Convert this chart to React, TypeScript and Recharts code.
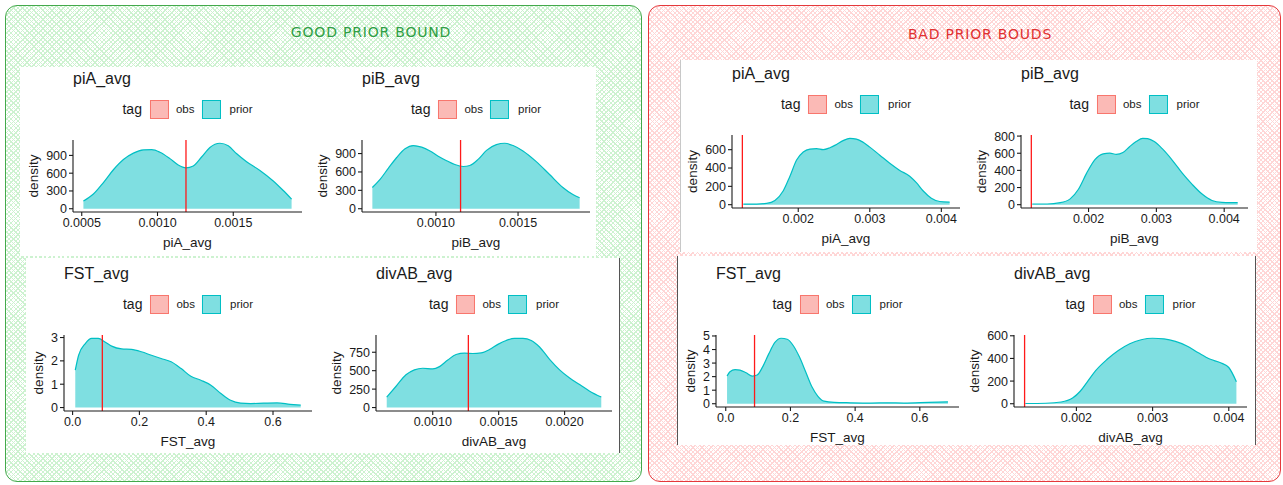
import React from 'react'
import { AreaChart, Area, XAxis, YAxis, ReferenceLine } from 'recharts'

// prior densities (x = statistic value, y = density) and the observed statistic

const goodPiAX = [0.000511, 0.000577, 0.000643, 0.000709, 0.000775, 0.000841, 0.000907, 0.000962, 0.001016, 0.001082, 0.001137, 0.001188, 0.001236, 0.001291, 0.001346, 0.001412, 0.001467, 0.001523, 0.001588, 0.001676, 0.001764, 0.00183, 0.001885]
const goodPiAY = [129, 248, 442, 658, 830, 938, 992, 997, 954, 846, 738, 690, 722, 873, 1035, 1105, 1062, 927, 792, 647, 469, 307, 162]
const goodPiAObs = 0.001188

const goodPiBX = [0.000613, 0.00066, 0.000711, 0.000761, 0.000812, 0.000862, 0.000913, 0.000964, 0.001014, 0.001065, 0.001115, 0.001166, 0.001206, 0.001257, 0.001308, 0.001368, 0.001419, 0.00147, 0.00153, 0.001611, 0.001692, 0.001773, 0.001834, 0.001875]
const goodPiBY = [347, 479, 663, 836, 978, 1031, 1005, 942, 857, 784, 721, 689, 705, 805, 952, 1047, 1068, 1031, 942, 768, 558, 347, 231, 179]
const goodPiBObs = 0.00115

const goodFstX = [0.008, 0.018, 0.038, 0.057, 0.077, 0.097, 0.117, 0.147, 0.176, 0.206, 0.236, 0.265, 0.295, 0.325, 0.354, 0.384, 0.414, 0.444, 0.473, 0.503, 0.533, 0.572, 0.612, 0.651, 0.683]
const goodFstY = [1.6, 2.24, 2.74, 2.96, 2.96, 2.81, 2.63, 2.51, 2.49, 2.39, 2.24, 2.1, 1.96, 1.67, 1.34, 1.17, 0.96, 0.6, 0.31, 0.19, 0.17, 0.19, 0.2, 0.14, 0.1]
const goodFstObs = 0.089

const goodDivX = [0.000651, 0.000722, 0.000797, 0.000861, 0.000924, 0.001, 0.001051, 0.001114, 0.001177, 0.001241, 0.001304, 0.001367, 0.00143, 0.001494, 0.001557, 0.00162, 0.001684, 0.001747, 0.00181, 0.001886, 0.001962, 0.002038, 0.002114, 0.00219, 0.002278]
const goodDivY = [142, 289, 444, 511, 533, 524, 555, 644, 719, 737, 733, 741, 786, 857, 910, 937, 937, 910, 821, 653, 511, 400, 311, 222, 142]
const goodDivObs = 0.00127

const badPiAX = [0.001233, 0.001419, 0.001558, 0.001674, 0.001791, 0.001884, 0.001977, 0.00207, 0.002163, 0.002256, 0.002349, 0.002442, 0.002535, 0.002628, 0.002721, 0.002814, 0.002907, 0.003, 0.00314, 0.003279, 0.003419, 0.003558, 0.003651, 0.003744, 0.00386, 0.003977, 0.004116]
const badPiAY = [7, 7, 14, 46, 152, 311, 487, 575, 607, 611, 600, 621, 657, 699, 724, 716, 681, 628, 540, 452, 374, 311, 240, 152, 71, 35, 28]
const badPiAObs = 0.001219

const badPiBX = [0.00117, 0.001389, 0.001583, 0.001729, 0.001851, 0.001972, 0.002094, 0.002215, 0.002313, 0.00241, 0.002507, 0.002604, 0.002702, 0.002799, 0.002872, 0.002969, 0.00309, 0.003236, 0.003382, 0.003528, 0.003674, 0.00382, 0.003965, 0.004087, 0.004199]
const badPiBY = [8, 8, 23, 68, 180, 368, 526, 593, 601, 586, 608, 676, 736, 774, 770, 736, 650, 518, 368, 237, 124, 49, 26, 23, 23]
const badPiBObs = 0.001156

const badFstX = [0.004, 0.013, 0.029, 0.044, 0.063, 0.082, 0.097, 0.114, 0.133, 0.152, 0.171, 0.19, 0.209, 0.228, 0.247, 0.266, 0.285, 0.304, 0.335, 0.386, 0.449, 0.5, 0.551, 0.627, 0.687]
const badFstY = [2.04, 2.36, 2.52, 2.48, 2.28, 2.04, 2.12, 2.72, 3.68, 4.52, 4.83, 4.76, 4.28, 3.44, 2.36, 1.27, 0.55, 0.19, 0.1, 0.07, 0.05, 0.07, 0.05, 0.1, 0.14]
const badFstObs = 0.089

const badDivX = [0.00133, 0.0016, 0.0018, 0.00195, 0.00205, 0.00215, 0.00225, 0.0024, 0.00255, 0.0027, 0.00285, 0.003, 0.00315, 0.0033, 0.00345, 0.0036, 0.00375, 0.0039, 0.004, 0.0041]
const badDivY = [2, 4, 15, 50, 110, 200, 290, 390, 470, 530, 565, 578, 572, 550, 510, 450, 395, 360, 320, 195]
const badDivObs = 0.00132

const piTicksGood = [0.0005, 0.001, 0.0015]
const divTicksGood = [0.001, 0.0015, 0.002]
const fstTicks = [0, 0.2, 0.4, 0.6]
const piTicksBad = [0.001, 0.002, 0.003, 0.004]
const goodPiYTicks = [0, 300, 600, 900]
const goodFstYTicks = [0, 1, 2, 3]
const goodDivYTicks = [0, 250, 500, 750]
const badPiAYTicks = [0, 200, 400, 600]
const badPiBYTicks = [0, 200, 400, 600, 800]
const badFstYTicks = [0, 1, 2, 3, 4, 5]
const badDivYTicks = [0, 200, 400, 600]

const PRIOR = '#00BFC4'
const OBS = '#F8766D'
const INK = '#1a1a1a'
const FONT = '"Liberation Sans", Arial, Helvetica, sans-serif'

type Box = { left: number; right: number; top: number; bottom: number }

function TagLegend({ cx, cy }: { cx: number; cy: number }) {
  const swatch = (line: string, fill: string) => ({
    width: 17,
    height: 17,
    background: fill,
    border: `1px solid ${line}`,
    boxSizing: 'content-box' as const,
  })
  return (
    <div
      style={{
        position: 'absolute',
        left: cx,
        top: cy - 10,
        height: 20,
        transform: 'translateX(-50%)',
        display: 'flex',
        alignItems: 'center',
        whiteSpace: 'nowrap',
        color: INK,
      }}
    >
      <span style={{ fontSize: 14, marginRight: 8 }}>tag</span>
      <span style={swatch(OBS, 'rgba(248,118,109,0.5)')} />
      <span style={{ fontSize: 11.5, margin: '0 7px' }}>obs</span>
      <span style={swatch(PRIOR, 'rgba(0,191,196,0.5)')} />
      <span style={{ fontSize: 11.5, marginLeft: 9 }}>prior</span>
    </div>
  )
}

interface DensityProps {
  title: string
  xs: number[]
  ys: number[]
  obs: number
  xTicks: number[]
  yTicks: number[]
  digits: number
  box: Box
}

function DensityPlot({ title, xs, ys, obs, xTicks, yTicks, digits, box }: DensityProps) {
  const rows = xs.map((x, i) => ({ x, density: ys[i] }))
  const lo = Math.min(obs, ...xs)
  const hi = Math.max(obs, ...xs)
  const pad = (hi - lo) * 0.05
  const peak = Math.max(...ys)
  const axisW = 60
  const axisH = 46
  const mTop = 8
  const mRight = 4
  const w = box.right - box.left + axisW + mRight
  const h = box.bottom - box.top + mTop + axisH
  const tickChars = Math.max(...yTicks.map((t) => String(t).length))
  const yLabelOffset = axisW - (6 + tickChars * 7 + 13)
  const shownTicks = xTicks.filter((t) => t >= lo - pad && t <= hi + pad)

  return (
    <>
      <div
        style={{
          position: 'absolute',
          left: box.left,
          top: box.top - 71,
          fontSize: 16,
          lineHeight: '20px',
          color: INK,
        }}
      >
        {title}
      </div>
      <TagLegend cx={(box.left + box.right) / 2} cy={box.top - 31} />
      <div style={{ position: 'absolute', left: box.left - axisW, top: box.top - mTop }}>
        <AreaChart
          width={w}
          height={h}
          data={rows}
          margin={{ top: mTop, right: mRight, left: 0, bottom: 0 }}
        >
          <XAxis
            type="number"
            dataKey="x"
            domain={[lo - pad, hi + pad]}
            allowDataOverflow
            ticks={shownTicks}
            interval={0}
            tickFormatter={(v: number) => v.toFixed(digits)}
            height={axisH}
            tick={{ fontSize: 12.5, fill: INK }}
            tickSize={4}
            tickMargin={2}
            axisLine={{ stroke: INK, strokeWidth: 1.1 }}
            tickLine={{ stroke: INK, strokeWidth: 1.1 }}
            label={{ value: title, position: 'insideBottom', offset: 11, fill: INK, fontSize: 13.5 }}
          />
          <YAxis
            type="number"
            domain={[-0.05 * peak, 1.05 * peak]}
            allowDataOverflow
            ticks={yTicks}
            interval={0}
            width={axisW}
            tick={{ fontSize: 12.5, fill: INK }}
            tickSize={4}
            tickMargin={2}
            axisLine={{ stroke: INK, strokeWidth: 1.1 }}
            tickLine={{ stroke: INK, strokeWidth: 1.1 }}
            label={{
              value: 'density',
              angle: -90,
              position: 'insideLeft',
              offset: yLabelOffset,
              fill: INK,
              fontSize: 13.5,
              style: { textAnchor: 'middle' },
            }}
          />
          <Area
            type="monotone"
            dataKey="density"
            baseValue={0}
            stroke={PRIOR}
            strokeWidth={1.2}
            fill={PRIOR}
            fillOpacity={0.5}
            dot={false}
            activeDot={false}
            isAnimationActive={false}
          />
          <ReferenceLine x={obs} stroke="#ff1a1a" strokeWidth={1.3} />
        </AreaChart>
      </div>
    </>
  )
}

// fine cross-hatch like the sketch-tool fill
const hatch = (c: string) =>
  `repeating-linear-gradient(45deg, ${c} 0 1px, transparent 1px 3.2px), repeating-linear-gradient(-45deg, ${c} 0 1px, transparent 1px 3.2px), #ffffff`

function Frame({ left, width, stroke, fill }: { left: number; width: number; stroke: string; fill: string }) {
  return (
    <div
      style={{
        position: 'absolute',
        left,
        top: 5,
        width,
        height: 477,
        boxSizing: 'border-box',
        border: `1.5px solid ${stroke}`,
        borderRadius: 12,
        background: hatch(fill),
      }}
    />
  )
}

function Sheet({ box, borders }: { box: Box; borders?: React.CSSProperties }) {
  return (
    <div
      style={{
        position: 'absolute',
        left: box.left,
        top: box.top,
        width: box.right - box.left,
        height: box.bottom - box.top,
        background: '#ffffff',
        boxSizing: 'border-box',
        ...borders,
      }}
    />
  )
}

const heading = (color: string): React.CSSProperties => ({
  position: 'absolute',
  transform: 'translate(-50%, -50%)',
  color,
  fontFamily: '"DejaVu Sans", sans-serif',
  fontSize: 14,
  letterSpacing: 0.8,
  whiteSpace: 'nowrap',
})

export default function App() {
  return (
    <div
      style={{
        position: 'absolute',
        left: 0,
        top: 0,
        width: 1283,
        height: 485,
        background: '#ffffff',
        fontFamily: FONT,
        overflow: 'hidden',
      }}
    >
      <Frame left={5} width={637} stroke="#43a94b" fill="#cdf2d0" />
      <Frame left={648} width={633} stroke="#e5383b" fill="#ffd6d6" />

      <div style={{ ...heading('#2f9e44'), left: 371, top: 32 }}>GOOD PRIOR BOUND</div>
      <div style={{ ...heading('#e03131'), left: 980, top: 34 }}>BAD PRIOR BOUDS</div>

      <Sheet box={{ left: 20, right: 596, top: 67, bottom: 256 }} />
      <Sheet box={{ left: 26, right: 620, top: 258, bottom: 453 }} borders={{ borderRight: '1.5px solid #555' }} />
      <Sheet box={{ left: 680, right: 1257, top: 60, bottom: 252 }} borders={{ borderLeft: '1px solid #c8c8c8' }} />
      <Sheet
        box={{ left: 677, right: 1256, top: 256, bottom: 445 }}
        borders={{ borderLeft: '1.5px solid #555', borderRight: '1.5px solid #555' }}
      />

      <DensityPlot title="piA_avg" xs={goodPiAX} ys={goodPiAY} obs={goodPiAObs} xTicks={piTicksGood} yTicks={goodPiYTicks} digits={4} box={{ left: 73, right: 302, top: 140, bottom: 212 }} />
      <DensityPlot title="piB_avg" xs={goodPiBX} ys={goodPiBY} obs={goodPiBObs} xTicks={piTicksGood} yTicks={goodPiYTicks} digits={4} box={{ left: 362, right: 590, top: 140, bottom: 212 }} />
      <DensityPlot title="FST_avg" xs={goodFstX} ys={goodFstY} obs={goodFstObs} xTicks={fstTicks} yTicks={goodFstYTicks} digits={1} box={{ left: 64, right: 312, top: 335, bottom: 411 }} />
      <DensityPlot title="divAB_avg" xs={goodDivX} ys={goodDivY} obs={goodDivObs} xTicks={divTicksGood} yTicks={goodDivYTicks} digits={4} box={{ left: 376, right: 612, top: 335, bottom: 411 }} />

      <DensityPlot title="piA_avg" xs={badPiAX} ys={badPiAY} obs={badPiAObs} xTicks={piTicksBad} yTicks={badPiAYTicks} digits={3} box={{ left: 732, right: 960, top: 135, bottom: 208 }} />
      <DensityPlot title="piB_avg" xs={badPiBX} ys={badPiBY} obs={badPiBObs} xTicks={piTicksBad} yTicks={badPiBYTicks} digits={3} box={{ left: 1021, right: 1248, top: 135, bottom: 208 }} />
      <DensityPlot title="FST_avg" xs={badFstX} ys={badFstY} obs={badFstObs} xTicks={fstTicks} yTicks={badFstYTicks} digits={1} box={{ left: 716, right: 959, top: 335, bottom: 407 }} />
      <DensityPlot title="divAB_avg" xs={badDivX} ys={badDivY} obs={badDivObs} xTicks={piTicksBad} yTicks={badDivYTicks} digits={3} box={{ left: 1014, right: 1247, top: 335, bottom: 407 }} />
    </div>
  )
}
